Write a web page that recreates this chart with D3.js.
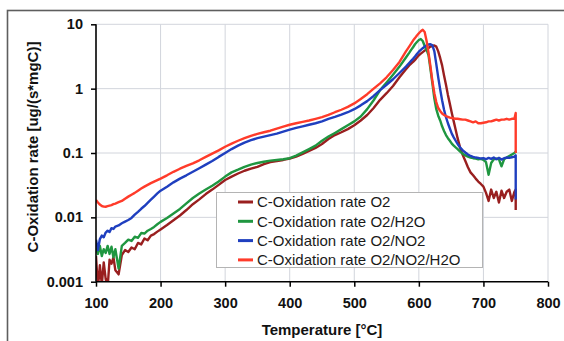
<!DOCTYPE html>
<html><head><meta charset="utf-8">
<script src="https://cdn.jsdelivr.net/npm/d3@7/dist/d3.min.js"></script>
<style>
html,body{margin:0;padding:0;background:#fff;}
svg{display:block;font-family:"Liberation Sans",Arial,sans-serif;}
</style></head>
<body><svg id="chart" width="564" height="341"></svg>
<script>
const temps = [100,103,106,109,112,115,118,121,124,127,130,135,140,145,150,155,160,165,170,175,180,185,190,195,200,
210,220,230,240,250,260,270,280,290,300,310,320,330,340,350,360,370,380,390,400,410,420,430,440,450,460,470,480,490,500,510,520,530,540,550,560,570,580,
585,588,591,594,597,600,603,606,609,612,615,618,621,624,627,630,633,636,639,642,645,648,651,654,657,660,
664,668,672,676,680,684,688,692,696,700,704,708,712,716,720,724,728,732,736,740,744,748,750,750];

const rateO2 = [.0025,.0008,.0018,.0009,.002,.0011,.0008,.0022,.0019,.0024,.0015,
.0013,.0026,.0031,.0029,.0034,.0032,.004,.0038,.0047,.0044,.0052,.0055,.006,.0065,
.0076,.009,.0107,.013,.016,.019,.023,.027,.032,.038,.043,.048,.053,.057,.061,.067,.072,.075,.078,.082,
.088,.097,.108,.12,.138,.165,.19,.21,.235,.27,.32,.39,.5,.67,.85,1.1,1.5,2.0,
2.3,2.45,2.6,2.8,3.05,3.3,3.5,3.7,3.9,4.1,4.3,4.5,4.6,4.7,4.5,3.8,3.0,2.3,1.6,1.15,0.8,0.58,0.42,0.31,0.23,0.17,
.12,.093,.075,.06,.05,.045,.04,.036,.033,.03,.024,.018,.027,.02,.025,.017,.026,.02,.025,.027,.018,.025,.027,.013];

const rateO2H2O = [.0034,.0027,.0036,.0025,.0032,.0028,.0036,.0027,.0035,.0024,.0032,
.0016,.0036,.004,.0045,.0043,.005,.0048,.0057,.0056,.0062,.0066,.0071,.0078,.0085,
.0098,.0115,.0135,.0165,.02,.0235,.027,.031,.036,.043,.05,.055,.061,.066,.07,.073,.076,.078,.08,.083,
.091,.102,.115,.13,.155,.18,.205,.235,.27,.31,.37,.48,.66,.95,1.25,1.65,2.2,3.05,
3.6,4.0,4.4,4.9,5.3,5.7,5.9,5.5,4.6,4.0,3.3,2.0,1.2,0.7,0.48,0.38,0.32,0.26,0.22,0.19,0.17,0.155,0.14,0.13,0.122,0.115,
.105,.097,.092,.088,.085,.083,.082,.08,.081,.078,.072,.046,.07,.08,.082,.08,.062,.08,.085,.09,.095,.1,.105,.1];

const rateO2NO2 = [.0045,.0031,.0046,.0052,.0049,.0058,.0062,.0059,.0068,.0066,.0072,
.0075,.0081,.0086,.0091,.0098,.011,.0122,.0136,.015,.0168,.0188,.021,.0235,.026,
.03,.035,.04,.045,.051,.058,.066,.075,.087,.1,.115,.13,.145,.158,.17,.18,.19,.2,.215,.23,
.245,.26,.275,.29,.31,.34,.365,.395,.43,.48,.55,.64,.77,.95,1.15,1.4,1.75,2.2,
2.5,2.7,2.9,3.15,3.45,3.75,4.0,4.25,4.5,4.7,4.85,4.9,4.7,3.8,2.4,1.5,0.98,0.66,0.47,0.36,0.29,0.24,0.2,0.175,0.155,0.138,
.122,.11,.102,.095,.09,.087,.085,.084,.082,.083,.08,.084,.081,.085,.08,.084,.079,.083,.085,.084,.086,.088,.092,.019];

const rateO2NO2H2O = [.0186,.017,.0158,.015,.0147,.0146,.0149,.0152,.0155,.016,.0164,
.0172,.018,.0195,.021,.0225,.024,.026,.028,.03,.032,.034,.036,.038,.04,
.045,.051,.057,.063,.069,.077,.087,.098,.11,.125,.14,.155,.17,.185,.198,.21,.222,.24,.257,.275,
.29,.305,.32,.34,.36,.39,.43,.47,.52,.59,.69,.82,1.0,1.21,1.5,1.95,2.6,3.8,
4.5,5.0,5.6,6.1,6.7,7.25,7.8,8.2,7.6,5.5,3.6,2.2,1.3,0.85,0.62,0.5,0.45,0.41,0.39,0.375,0.365,0.355,0.35,0.345,0.34,0.34,
.335,.33,.33,.32,.31,.30,.31,.29,.29,.295,.30,.31,.31,.32,.33,.32,.33,.33,.34,.33,.34,.34,.42,.1];

const seriesNames = ["C-Oxidation rate O2","C-Oxidation rate O2/H2O","C-Oxidation rate O2/NO2","C-Oxidation rate O2/NO2/H2O"];
const seriesColors = ["#991f1f","#1f9640","#1f3fbf","#ff3b2a"];
const xTicks = [100,200,300,400,500,600,700,800];
const yTicks = [0.001,0.01,0.1,1,10];
const yTickLabels = ["0.001","0.01","0.1","1","10"];
const xTitle = "Temperature [°C]";
const yTitle = "C-Oxidation rate [ug/(s*mgC)]";

const seriesValues = [rateO2, rateO2H2O, rateO2NO2, rateO2NO2H2O];

const svg = d3.select("#chart");
const W = 564, H = 341;
const L = 96, R = 548, T = 24.3, B = 281.7;

svg.append("rect").attr("width",W).attr("height",H).attr("fill","#fff");
// outer frame
svg.append("rect").attr("x",7.5).attr("y",10.5).attr("width",600).attr("height",400)
  .attr("fill","none").attr("stroke","#5e5e5e").attr("stroke-width",1.6);

const x = d3.scaleLinear().domain([100,800]).range([L,R]);
const y = d3.scaleLog().domain([0.001,10]).range([B,T]);

// grid
const grid = svg.append("g").attr("stroke","#d2d5dc").attr("stroke-width",1);
grid.selectAll("line.v").data(xTicks.slice(1)).join("line")
  .attr("x1",d=>x(d)).attr("x2",d=>x(d)).attr("y1",T).attr("y2",B);
grid.selectAll("line.h").data(yTicks.slice(1)).join("line")
  .attr("x1",L).attr("x2",R).attr("y1",d=>y(d)).attr("y2",d=>y(d));

// clip
svg.append("clipPath").attr("id","clip").append("rect")
  .attr("x",L).attr("y",T-3).attr("width",R-L).attr("height",B-T+3);

const line = d3.line().x(d=>x(d[0])).y(d=>y(Math.max(d[1],1e-4)));
const lines = svg.append("g").attr("clip-path","url(#clip)");
seriesValues.forEach((vals,i)=>{
  const pts = temps.map((t,j)=>[t,vals[j]]);
  lines.append("path").datum(pts).attr("d",line)
    .attr("fill","none").attr("stroke",seriesColors[i]).attr("stroke-width",2.4)
    .attr("stroke-linejoin","round");
});

// axes
const xAxis = d3.axisBottom(x).tickValues(xTicks).tickFormat(d3.format("d")).tickSize(5).tickPadding(11);
const gx = svg.append("g").attr("transform",`translate(0,${B})`).call(xAxis);
const yAxis = d3.axisLeft(y).tickValues(yTicks).tickFormat((d,i)=>yTickLabels[i]).tickSize(5).tickPadding(8);
const gy = svg.append("g").attr("transform",`translate(${L},0)`).call(yAxis);
[gx,gy].forEach(g=>{
  g.select(".domain").attr("stroke","#000").attr("stroke-width",1.6);
  g.selectAll(".tick line").attr("stroke","#000").attr("stroke-width",1.5);
  g.selectAll(".tick text").attr("fill","#111").attr("font-size","14.5px").attr("font-weight","bold")
    .attr("font-family","\"Liberation Sans\",Arial,sans-serif");
});
gy.select(".domain").attr("d",`M0,${B}V${T}`);
gx.select(".domain").attr("d",`M${L},0H${R}`);

// titles
svg.append("text").attr("x",(L+R)/2).attr("y",335).attr("text-anchor","middle")
  .attr("font-size","15px").attr("font-weight","bold").attr("fill","#111").text(xTitle);
svg.append("text").attr("transform","translate(37.5,147) rotate(-90)").attr("text-anchor","middle")
  .attr("font-size","15px").attr("font-weight","bold").attr("fill","#111").text(yTitle);

// legend
const lg = svg.append("g");
lg.append("rect").attr("x",216.5).attr("y",192.5).attr("width",266).attr("height",75)
  .attr("fill","#fff").attr("stroke","#b4b4b4").attr("stroke-width",1);
seriesNames.forEach((n,i)=>{
  const cy = 202 + i*19.3;
  lg.append("line").attr("x1",238).attr("x2",253).attr("y1",cy).attr("y2",cy)
    .attr("stroke",seriesColors[i]).attr("stroke-width",3);
  lg.append("text").attr("x",257).attr("y",cy+5.3).attr("font-size","15px").attr("fill","#1a1a1a").text(n);
});
</script></body></html>
